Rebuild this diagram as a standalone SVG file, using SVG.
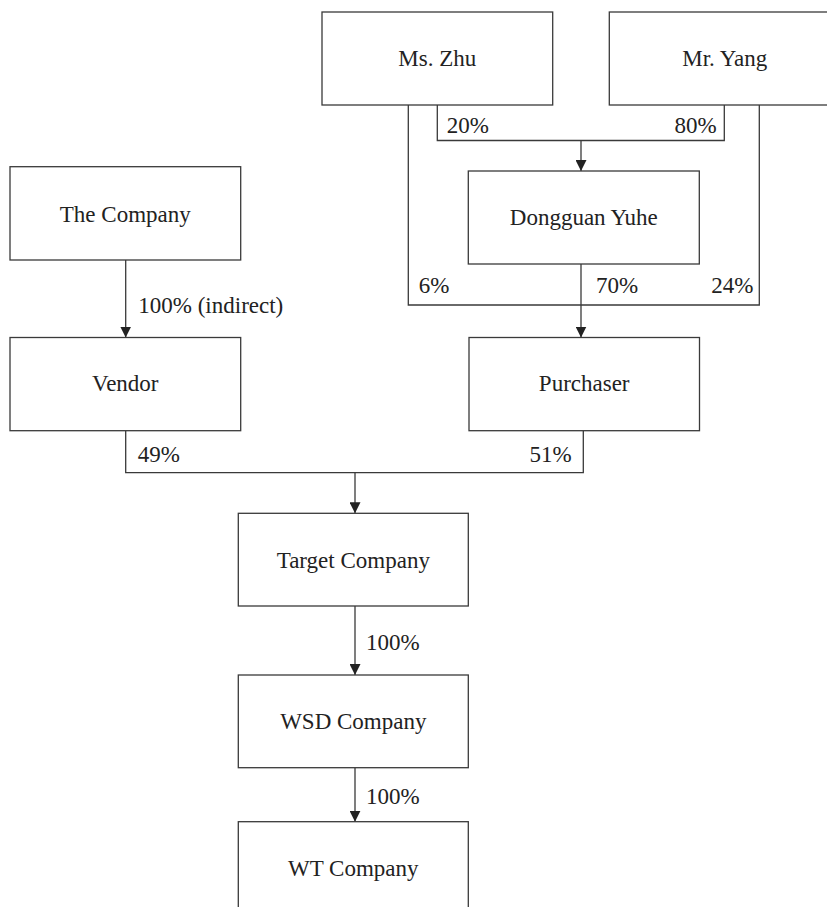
<svg xmlns="http://www.w3.org/2000/svg" width="827" height="907" viewBox="0 0 827 907" font-family="'Liberation Serif', 'Times New Roman', serif" font-size="23">
<style>
.box{fill:#fff;stroke:#3a3a3a;stroke-width:1.3}
.ln{fill:none;stroke:#3a3a3a;stroke-width:1.3}
text{font-family:'Liberation Serif','Times New Roman',serif;font-size:23px;fill:#222}
.c{text-anchor:middle}
.e{text-anchor:end}
</style>
<defs>
<marker id="ah" markerWidth="12" markerHeight="11" refX="11" refY="5.5" orient="auto" markerUnits="userSpaceOnUse">
<path d="M0,0 L11,5.5 L0,11 Z" fill="#222"/>
</marker>
</defs>
<rect x="0" y="0" width="827" height="907" fill="#fff"/>
<g id="connectors">
<path class="ln" d="M408.3,105 V305 H759.3 V105"/>
<path class="ln" d="M437.3,105 V140.5 H724.3 V105"/>
<path class="ln" d="M581,140.5 V171" marker-end="url(#ah)"/>
<path class="ln" d="M581,264 V337.5" marker-end="url(#ah)"/>
<path class="ln" d="M125.7,260 V337.5" marker-end="url(#ah)"/>
<path class="ln" d="M125.7,430.7 V472.7 H583.3 V430.7"/>
<path class="ln" d="M355,472.7 V513.3" marker-end="url(#ah)"/>
<path class="ln" d="M355,606 V675" marker-end="url(#ah)"/>
<path class="ln" d="M355,767.7 V821.7" marker-end="url(#ah)"/>
<text x="446.7" y="133">20%</text>
<text class="e" x="716.7" y="133">80%</text>
<text x="418.7" y="292.5">6%</text>
<text x="596" y="292.5">70%</text>
<text class="e" x="753.3" y="292.5">24%</text>
<text x="138.3" y="313">100% (indirect)</text>
<text x="137.7" y="461.7">49%</text>
<text class="e" x="571.7" y="461.7">51%</text>
<text x="366" y="650">100%</text>
<text x="366" y="804">100%</text>
</g>
<g id="ms-zhu"><rect class="box" x="322" y="12" width="230.7" height="93"/><text class="c" x="437.3" y="66">Ms. Zhu</text></g>
<g id="mr-yang"><rect class="box" x="609.3" y="12" width="240" height="93"/><text class="c" x="724.7" y="66">Mr. Yang</text></g>
<g id="dongguan-yuhe"><rect class="box" x="468.3" y="171" width="231" height="93"/><text class="c" x="583.8" y="225">Dongguan Yuhe</text></g>
<g id="the-company"><rect class="box" x="10" y="166.7" width="230.7" height="93.3"/><text class="c" x="125.3" y="221.5">The Company</text></g>
<g id="vendor"><rect class="box" x="10" y="337.5" width="230.7" height="93.2"/><text class="c" x="125.3" y="391">Vendor</text></g>
<g id="purchaser"><rect class="box" x="469" y="337.5" width="230.5" height="93.2"/><text class="c" x="584.2" y="391">Purchaser</text></g>
<g id="target-company"><rect class="box" x="238.3" y="513.3" width="230" height="92.7"/><text class="c" x="353.3" y="567.5">Target Company</text></g>
<g id="wsd-company"><rect class="box" x="238.3" y="675" width="230" height="92.7"/><text class="c" x="353.3" y="729.3">WSD Company</text></g>
<g id="wt-company"><rect class="box" x="238.3" y="821.7" width="230" height="100"/><text class="c" x="353.3" y="876">WT Company</text></g>
</svg>
